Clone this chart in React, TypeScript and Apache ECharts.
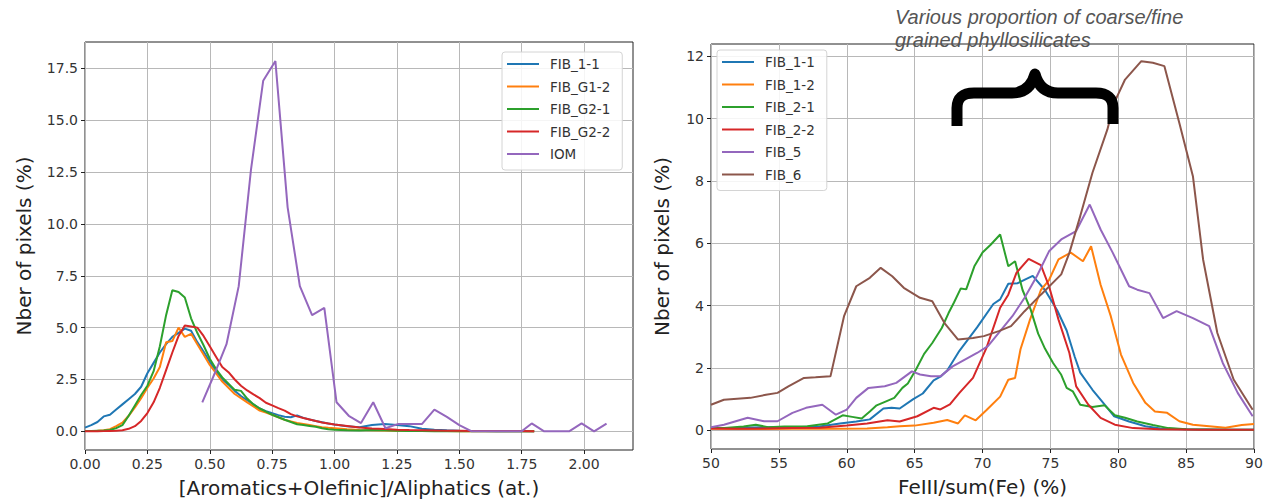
import React, { useEffect, useRef } from "react";
import * as echarts from "echarts";

// ---------- DATA ----------
const COLORS = ["#1f77b4", "#ff7f0e", "#2ca02c", "#d62728", "#9467bd", "#8c564b"];

// Left panel
const leftNames = ["FIB_1-1", "FIB_G1-2", "FIB_G2-1", "FIB_G2-2", "IOM"];
const leftBinX = [0, 0.025, 0.05, 0.075, 0.1, 0.125, 0.15, 0.175, 0.2, 0.225, 0.25, 0.275, 0.3, 0.325, 0.35, 0.375, 0.4, 0.425, 0.45, 0.475, 0.5, 0.525, 0.55, 0.575, 0.6, 0.625, 0.65, 0.675, 0.7, 0.725, 0.75, 0.775, 0.8, 0.825, 0.85, 0.875, 0.9, 0.925, 0.95, 0.975, 1.0, 1.05, 1.1, 1.15, 1.2, 1.25, 1.3, 1.35, 1.4, 1.45, 1.5, 1.55, 1.6, 1.65, 1.7, 1.75, 1.8];
const fib11Left = [0.18, 0.3, 0.45, 0.72, 0.8, 1.05, 1.3, 1.55, 1.8, 2.15, 2.8, 3.3, 3.8, 4.2, 4.55, 4.75, 4.95, 4.85, 4.3, 3.85, 3.35, 2.9, 2.5, 2.25, 1.95, 1.7, 1.5, 1.3, 1.1, 0.97, 0.87, 0.78, 0.7, 0.68, 0.77, 0.65, 0.57, 0.5, 0.44, 0.38, 0.33, 0.25, 0.2, 0.3, 0.35, 0.3, 0.25, 0.12, 0.08, 0.05, 0.03, 0.02, 0.01, 0, 0, 0, 0];
const fibG12Left = [0.02, 0.02, 0.03, 0.05, 0.1, 0.25, 0.42, 0.75, 1.15, 1.6, 2.1, 2.55, 3.1, 4.3, 4.35, 5.0, 4.55, 4.7, 4.2, 3.7, 3.2, 2.8, 2.4, 2.1, 1.8, 1.6, 1.4, 1.2, 1.0, 0.9, 0.8, 0.68, 0.56, 0.48, 0.4, 0.35, 0.3, 0.25, 0.2, 0.17, 0.15, 0.1, 0.07, 0.05, 0.04, 0.03, 0.02, 0.02, 0.01, 0.01, 0, 0, 0, 0, 0, 0, 0];
const fibG21Left = [0.02, 0.02, 0.03, 0.04, 0.07, 0.15, 0.3, 0.75, 1.25, 1.75, 2.2, 2.9, 4.1, 5.6, 6.8, 6.72, 6.45, 5.45, 4.75, 4.15, 3.5, 3.0, 2.6, 2.3, 2.0, 1.95, 1.58, 1.3, 1.1, 0.95, 0.8, 0.68, 0.56, 0.45, 0.34, 0.3, 0.26, 0.22, 0.15, 0.1, 0.08, 0.05, 0.04, 0.06, 0.05, 0.03, 0.02, 0.01, 0, 0, 0, 0, 0, 0, 0, 0, 0];
const fibG22Left = [0, 0, 0, 0.01, 0.02, 0.03, 0.05, 0.12, 0.25, 0.5, 0.88, 1.4, 2.1, 2.95, 3.8, 4.6, 5.1, 5.05, 5.0, 4.6, 4.1, 3.6, 3.1, 2.85, 2.5, 2.2, 1.97, 1.78, 1.6, 1.38, 1.25, 1.12, 1.0, 0.83, 0.72, 0.64, 0.57, 0.5, 0.43, 0.38, 0.33, 0.26, 0.18, 0.14, 0.11, 0.08, 0.06, 0.05, 0.04, 0.03, 0.03, 0.02, 0.02, 0.01, 0.01, 0.01, 0];
const iomX = [0.47, 0.52, 0.567, 0.616, 0.665, 0.714, 0.763, 0.812, 0.861, 0.91, 0.959, 1.008, 1.057, 1.106, 1.155, 1.204, 1.253, 1.3, 1.35, 1.4, 1.45, 1.5, 1.55, 1.6, 1.65, 1.7, 1.75, 1.79, 1.84, 1.89, 1.94, 1.99, 2.04, 2.09];
const iomY = [1.4, 2.8, 4.2, 7.0, 12.6, 16.9, 17.85, 10.8, 7.0, 5.6, 5.95, 1.4, 0.75, 0.4, 1.4, 0.15, 0.35, 0.35, 0.35, 1.05, 0.7, 0.3, 0.0, 0, 0, 0, 0, 0.38, 0, 0, 0, 0.38, 0, 0.37];
const leftXTicks = [0, 0.25, 0.5, 0.75, 1.0, 1.25, 1.5, 1.75, 2.0];
const leftYTicks = [0, 2.5, 5, 7.5, 10, 12.5, 15, 17.5];

// Right panel
const rightNames = ["FIB_1-1", "FIB_1-2", "FIB_2-1", "FIB_2-2", "FIB_5", "FIB_6"];
const fib11Right = [[50, 0.07], [52, 0.08], [54, 0.1], [56, 0.1], [58, 0.12], [59.5, 0.22], [60.7, 0.28], [61.7, 0.35], [62.7, 0.7], [63.3, 0.72], [63.9, 0.7], [64.9, 1.0], [65.6, 1.18], [66.4, 1.6], [66.9, 1.72], [67.4, 1.92], [68.3, 2.55], [69.6, 3.3], [70.8, 4.05], [71.3, 4.2], [71.9, 4.7], [72.6, 4.72], [73.2, 4.85], [73.7, 4.95], [74.6, 4.5], [75.5, 3.85], [76.2, 3.2], [76.8, 2.35], [77.2, 1.85], [78.1, 1.3], [79, 0.82], [79.7, 0.45], [80.8, 0.28], [82, 0.13], [83.1, 0.06], [85, 0.03], [88, 0.02], [90, 0.02]];
const fib12Right = [[50, 0.05], [53, 0.04], [56, 0.05], [59, 0.05], [61.5, 0.06], [63, 0.1], [63.9, 0.13], [65, 0.15], [66.4, 0.24], [67.4, 0.33], [68.2, 0.22], [68.7, 0.48], [69.5, 0.32], [70.3, 0.65], [71.3, 1.08], [71.9, 1.62], [72.4, 1.68], [72.8, 2.6], [73.5, 3.55], [74.3, 4.5], [74.9, 4.82], [75.6, 5.48], [76.5, 5.7], [77.4, 5.42], [78.0, 5.9], [78.7, 4.67], [79.45, 3.66], [80.2, 2.43], [81.1, 1.52], [82, 0.88], [82.7, 0.6], [83.6, 0.56], [84.5, 0.29], [85.5, 0.18], [86.7, 0.13], [87.9, 0.08], [89.1, 0.17], [90, 0.2]];
const fib21Right = [[50, 0.07], [51, 0.07], [52.4, 0.12], [53.3, 0.18], [54.2, 0.1], [55.4, 0.12], [57.1, 0.13], [58.6, 0.22], [59.7, 0.48], [60.4, 0.43], [61.1, 0.38], [61.7, 0.6], [62.2, 0.8], [62.9, 0.93], [63.5, 1.04], [64.1, 1.36], [64.5, 1.5], [65.1, 1.95], [65.7, 2.45], [66.3, 2.8], [67.0, 3.28], [67.5, 3.76], [67.9, 4.1], [68.4, 4.55], [68.8, 4.52], [69.4, 5.26], [70.0, 5.7], [70.6, 5.95], [71.3, 6.28], [71.9, 5.26], [72.4, 5.42], [72.95, 4.5], [73.55, 3.87], [74.1, 3.1], [74.6, 2.62], [75.2, 2.16], [75.8, 1.78], [76.2, 1.36], [76.65, 1.25], [77.2, 0.82], [78.1, 0.75], [79, 0.8], [79.75, 0.48], [80.5, 0.4], [81.4, 0.28], [82.55, 0.17], [83.7, 0.07], [85, 0.03], [88, 0.02], [90, 0.02]];
const fib22Right = [[50, 0.06], [52, 0.05], [54, 0.06], [56, 0.07], [58, 0.08], [60, 0.15], [61.5, 0.22], [63.0, 0.32], [63.9, 0.28], [65.2, 0.45], [66.4, 0.72], [66.9, 0.67], [67.6, 0.83], [68.3, 1.2], [69.3, 1.68], [70.3, 2.65], [71.3, 3.93], [71.9, 4.35], [72.5, 5.05], [73.4, 5.5], [74.3, 5.3], [74.9, 4.62], [75.6, 3.55], [76.4, 2.48], [76.9, 1.41], [77.8, 0.82], [78.7, 0.4], [79.75, 0.18], [81.1, 0.07], [83, 0.03], [86, 0.02], [90, 0.02]];
const fib5Right = [[50, 0.1], [50.95, 0.18], [52.7, 0.4], [53.9, 0.29], [54.9, 0.29], [56, 0.56], [57, 0.72], [58.2, 0.82], [59.2, 0.5], [60, 0.66], [60.7, 1.04], [61.6, 1.36], [62.8, 1.41], [63.65, 1.52], [64.8, 1.89], [65.4, 1.79], [66.2, 1.73], [66.9, 1.73], [67.8, 2.05], [68.7, 2.27], [69.6, 2.48], [70.4, 2.7], [71.3, 3.18], [72.2, 3.66], [73.1, 4.25], [74, 4.94], [74.9, 5.74], [75.8, 6.12], [76.9, 6.39], [77.9, 7.24], [78.7, 6.44], [79.6, 5.69], [80.8, 4.62], [81.4, 4.51], [82.3, 4.4], [83.3, 3.6], [84.3, 3.82], [85.5, 3.6], [86.7, 3.34], [87.7, 2.16], [88.8, 1.2], [89.9, 0.45]];
const fib6Right = [[50, 0.82], [50.95, 0.98], [52.9, 1.04], [54.05, 1.14], [54.9, 1.2], [55.7, 1.41], [56.85, 1.68], [57.7, 1.7], [58.8, 1.73], [59.8, 3.66], [60.7, 4.62], [61.7, 4.89], [62.5, 5.21], [63.35, 4.94], [64.2, 4.57], [65.4, 4.25], [66.3, 4.14], [67.2, 3.44], [68.2, 2.91], [69.3, 2.96], [70.1, 3.02], [71.2, 3.18], [72.1, 3.34], [73.1, 3.82], [74.3, 4.35], [75.8, 5.0], [76.4, 5.69], [77.2, 6.87], [78.1, 8.26], [79.2, 9.65], [79.7, 10.5], [80.5, 11.25], [81.7, 11.84], [82.55, 11.79], [83.4, 11.68], [84.5, 9.86], [85.5, 8.15], [86.25, 5.48], [87.3, 3.12], [88.5, 1.63], [89.9, 0.66]];
const rightXTicks = [50, 55, 60, 65, 70, 75, 80, 85, 90];
const rightYTicks = [0, 2, 4, 6, 8, 10, 12];

const annotationLines = ["Various proportion of coarse/fine", "grained phyllosilicates"];

// ---------- brace shape ----------
const BRACE_D =
  "M957 126 L957 108 Q957 93 974 93 L1012 93 Q1030 93 1035 74 Q1040 93 1058 93 L1096 93 Q1113 93 1113 108 L1113 124";
echarts.graphic.registerShape("brace", echarts.graphic.extendPath(BRACE_D, {}));

const FONT = "DejaVu Sans";

function makeAxis(o: any) {
  return {
    type: "value",
    gridIndex: o.grid,
    min: o.min,
    max: o.max,
    name: o.name,
    nameLocation: "middle",
    nameGap: o.nameGap,
    nameTextStyle: { fontSize: 20, color: "#222", fontFamily: FONT },
    axisLine: { show: false, onZero: false },
    axisTick: {
      show: true,
      length: 4,
      lineStyle: { color: "#222", width: 1 },
      customValues: o.ticks,
    },
    axisLabel: {
      customValues: o.ticks,
      formatter: (v: number) => v.toFixed(o.dec),
      color: "#333",
      fontSize: 14,
      fontFamily: FONT,
      margin: 7,
    },
    splitLine: { show: true, lineStyle: { color: "#b8b8b8", width: 1 } },
  };
}

function legendCfg(names: string[], left: number, top: number) {
  return {
    data: names,
    orient: "vertical",
    left,
    top,
    selectedMode: false,
    icon: "rect",
    itemWidth: 32,
    itemHeight: 2,
    itemGap: 6.5,
    padding: [4, 12, 8, 5],
    backgroundColor: "rgba(255,255,255,0.85)",
    borderColor: "#d4d4d4",
    borderWidth: 1,
    borderRadius: 3,
    textStyle: { fontSize: 13.5, lineHeight: 16, color: "#333", fontFamily: FONT, padding: [0, 0, 0, 6] },
  };
}

export default function App() {
  const ref = useRef<HTMLDivElement>(null);
  useEffect(() => {
    if (!ref.current) return;
    const chart = echarts.init(ref.current, null, { renderer: "svg" });
    const leftSeriesY = [fib11Left, fibG12Left, fibG21Left, fibG22Left];
    const series: any[] = [];
    leftSeriesY.forEach((ys, i) => {
      series.push({
        name: leftNames[i],
        type: "line",
        xAxisIndex: 0,
        yAxisIndex: 0,
        data: leftBinX.map((x, j) => [x, ys[j]]),
        symbol: "none",
        color: COLORS[i],
        lineStyle: { width: 2, color: COLORS[i] },
      });
    });
    series.push({
      name: leftNames[4],
      type: "line",
      xAxisIndex: 0,
      yAxisIndex: 0,
      data: iomX.map((x, j) => [x, iomY[j]]),
      symbol: "none",
      color: COLORS[4],
      lineStyle: { width: 2, color: COLORS[4] },
    });
    [fib11Right, fib12Right, fib21Right, fib22Right, fib5Right, fib6Right].forEach((d, i) => {
      series.push({
        name: rightNames[i],
        type: "line",
        xAxisIndex: 1,
        yAxisIndex: 1,
        data: d,
        symbol: "none",
        color: COLORS[i],
        lineStyle: { width: 2, color: COLORS[i] },
      });
    });

    chart.setOption({
      animation: false,
      backgroundColor: "#fff",
      grid: [
        { left: 85, top: 42, width: 548, height: 408, show: true, borderColor: "#222", borderWidth: 1, backgroundColor: "transparent", outerBoundsMode: "none" },
        { left: 711, top: 44, width: 543, height: 405, show: true, borderColor: "#222", borderWidth: 1, backgroundColor: "transparent", outerBoundsMode: "none" },
      ],
      xAxis: [
        makeAxis({ grid: 0, min: 0, max: 2.196, ticks: leftXTicks, dec: 2, name: "[Aromatics+Olefinic]/Aliphatics (at.)", nameGap: 28 }),
        makeAxis({ grid: 1, min: 50, max: 90, ticks: rightXTicks, dec: 0, name: "FeIII/sum(Fe) (%)", nameGap: 28 }),
      ],
      yAxis: [
        makeAxis({ grid: 0, min: -0.9, max: 18.77, ticks: leftYTicks, dec: 1, name: "Nber of pixels (%)", nameGap: 51 }),
        makeAxis({ grid: 1, min: -0.6, max: 12.39, ticks: rightYTicks, dec: 0, name: "Nber of pixels (%)", nameGap: 39 }),
      ],
      legend: [legendCfg(leftNames, 502, 52), legendCfg(rightNames, 717, 50)],
      graphic: [
        {
          type: "text",
          x: 895,
          y: 17,
          z: 10,
          style: { text: annotationLines[0], font: 'italic 20px "Liberation Sans"', fill: "#555", verticalAlign: "middle" },
        },
        {
          type: "text",
          x: 895,
          y: 40,
          z: 10,
          style: { text: annotationLines[1], font: 'italic 20px "Liberation Sans"', fill: "#555", verticalAlign: "middle" },
        },
        {
          type: "brace",
          x: 0,
          y: 0,
          z: 10,
          style: { fill: "none", stroke: "#000", lineWidth: 11, lineJoin: "round", lineCap: "butt" },
        },
      ],
      series,
    });
    return () => chart.dispose();
  }, []);
  return <div ref={ref} style={{ position: "absolute", left: 0, top: 0, width: 1269, height: 503 }} />;
}
